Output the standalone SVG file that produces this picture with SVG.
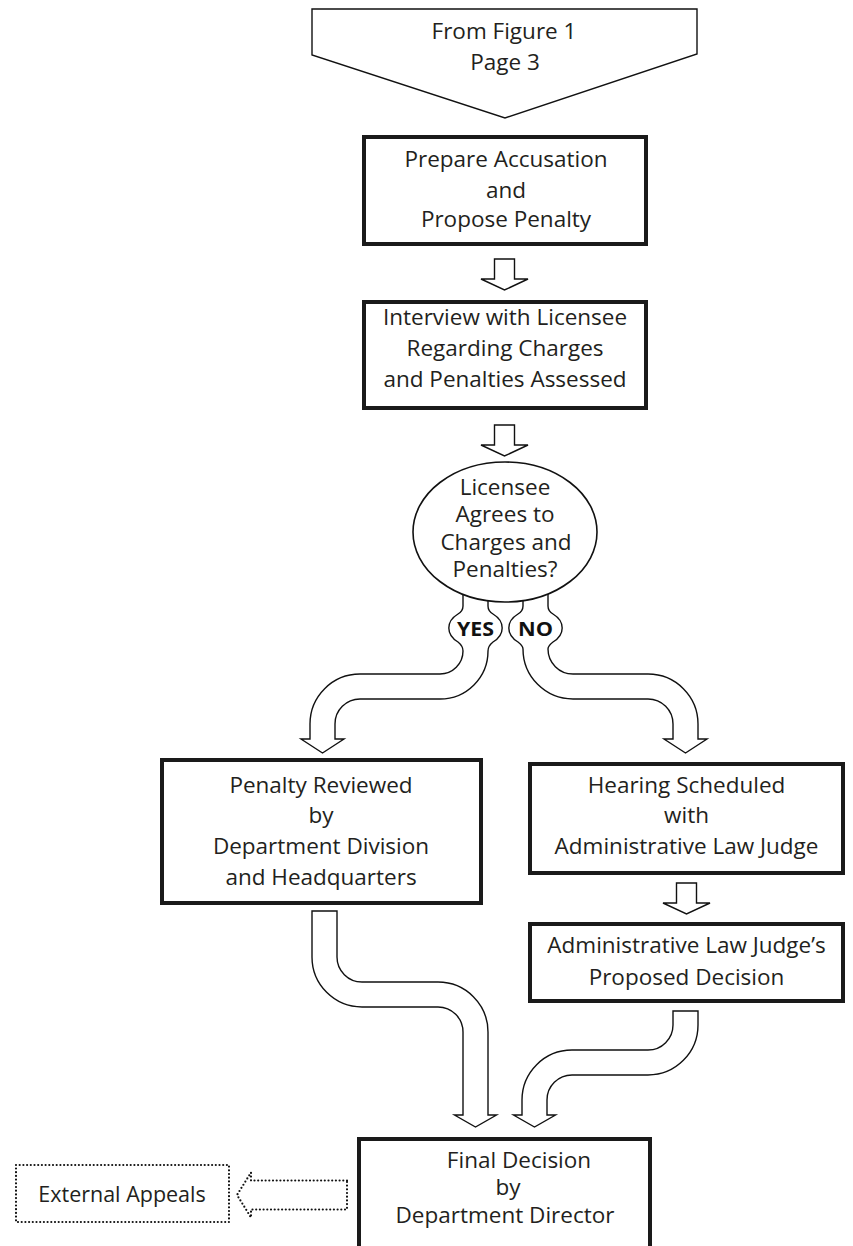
<svg xmlns="http://www.w3.org/2000/svg" width="853" height="1246" viewBox="0 0 853 1246">
<style>
.box{fill:#fff;stroke:#1a1a1a;stroke-width:4}
.conn{fill:#fff;stroke:#111;stroke-width:1.4;stroke-linejoin:miter}
.dot{fill:none;stroke:#111;stroke-width:2.2;stroke-dasharray:0 3.7;stroke-linecap:round}
.t{font-family:"Open Sans","Noto Sans","DejaVu Sans",sans-serif;font-size:22.5px;fill:#231f20;text-anchor:middle}
.b{font-family:"Open Sans","Liberation Sans",sans-serif;font-weight:bold;font-size:19px;fill:#111;text-anchor:middle}
</style>
<defs>
<path id="small" d="M-10,0 H10 V20 H23.5 L0,31 L-23.5,20 H-10 Z"/>
</defs>
<rect width="853" height="1246" fill="#fff"/>
<g id="connectors">
<use href="#small" class="conn" transform="translate(504.5,259)"/>
<use href="#small" class="conn" transform="translate(504.5,425)"/>
<use href="#small" class="conn" transform="translate(686.5,883)"/>
<path class="conn" d="M463,585 L463,606 Q463,611 458,614 A26.5,18.5 0 0 0 458,642 Q463,646 463,651 A23,23 0 0 1 440,674 L360,674 A50,50 0 0 0 310,724 L310,739 L301,739 L322.5,753 L344,739 L335,739 L335,724 A25,25 0 0 1 360,699 L440,699 A48,48 0 0 0 488,651 Q488,646 493,642 A26.5,18.5 0 0 0 493,614 Q488,611 488,606 L488,585 Z"/>
<path class="conn" d="M523,585 L523,606 Q523,611 518,614 A26.5,18.5 0 0 0 518,642 Q523,646 523,649 A50,50 0 0 0 573,699 L648,699 A25,25 0 0 1 673,724 L673,739 L664,739 L685.5,753 L707,739 L698,739 L698,724 A50,50 0 0 0 648,674 L573,674 A25,25 0 0 1 548,649 Q548,646 553,642 A26.5,18.5 0 0 0 553,614 Q548,611 548,606 L548,585 Z"/>
<text class="b" x="475.5" y="636" textLength="37" lengthAdjust="spacingAndGlyphs">YES</text>
<text class="b" x="535.5" y="636" textLength="35" lengthAdjust="spacingAndGlyphs">NO</text>
<path class="conn" d="M312,911 L337,911 L337,957 A25,25 0 0 0 362,982 L438,982 A50,50 0 0 1 488,1032 L488,1115 L496.5,1115 L475.5,1127 L454.5,1115 L463,1115 L463,1032 A25,25 0 0 0 438,1007 L362,1007 A50,50 0 0 1 312,957 Z"/>
<path class="conn" d="M673,1011 L698,1011 L698,1025 A50,50 0 0 1 648,1075 L572,1075 A25,25 0 0 0 547,1100 L547,1115 L555.5,1115 L534.5,1127 L513.5,1115 L522,1115 L522,1100 A50,50 0 0 1 572,1050 L648,1050 A25,25 0 0 0 673,1025 Z"/>
<path class="dot" d="M347,1180.5 L251,1180.5 L251,1172.5 L237,1195 L251,1217.5 L251,1209.5 L347,1209.5 Z"/>
</g>
<g id="start">
<path class="conn" d="M312,9 L697,9 L697,54 L505,118 L312,55 Z"/>
<text class="t" x="504" y="39">From Figure 1</text>
<text class="t" x="505" y="70">Page 3</text>
</g>
<g id="prepare">
<rect class="box" x="364" y="137" width="282" height="107"/>
<text class="t" x="506" y="167">Prepare Accusation</text>
<text class="t" x="506" y="198">and</text>
<text class="t" x="506" y="227">Propose Penalty</text>
</g>
<g id="interview">
<rect class="box" x="364" y="302" width="282" height="106"/>
<text class="t" x="505" y="325">Interview with Licensee</text>
<text class="t" x="505" y="356">Regarding Charges</text>
<text class="t" x="505" y="387">and Penalties Assessed</text>
</g>
<g id="decision">
<ellipse cx="505" cy="532" rx="92" ry="70" fill="#fff" stroke="#111" stroke-width="1.6"/>
<text class="t" x="505" y="495">Licensee</text>
<text class="t" x="505" y="522">Agrees to</text>
<text class="t" x="506" y="550">Charges and</text>
<text class="t" x="505" y="577">Penalties?</text>
</g>
<g id="penalty">
<rect class="box" x="162" y="760" width="319" height="143"/>
<text class="t" x="321" y="793">Penalty Reviewed</text>
<text class="t" x="321" y="823">by</text>
<text class="t" x="321" y="854">Department Division</text>
<text class="t" x="321" y="885">and Headquarters</text>
</g>
<g id="hearing">
<rect class="box" x="530" y="764" width="313" height="109"/>
<text class="t" x="686.5" y="793">Hearing Scheduled</text>
<text class="t" x="686.5" y="823">with</text>
<text class="t" x="686.5" y="854">Administrative Law Judge</text>
</g>
<g id="alj">
<rect class="box" x="530" y="924" width="313" height="77"/>
<text class="t" x="686.5" y="953">Administrative Law Judge’s</text>
<text class="t" x="686.5" y="985">Proposed Decision</text>
</g>
<g id="final">
<rect class="box" x="359" y="1139" width="291" height="120"/>
<text class="t" x="519" y="1168">Final Decision</text>
<text class="t" x="508" y="1195">by</text>
<text class="t" x="505" y="1223">Department Director</text>
</g>
<g id="external">
<rect class="dot" x="16" y="1165" width="213" height="57"/>
<text class="t" x="122" y="1202" style="font-size:21.5px">External Appeals</text>
</g>
</svg>
